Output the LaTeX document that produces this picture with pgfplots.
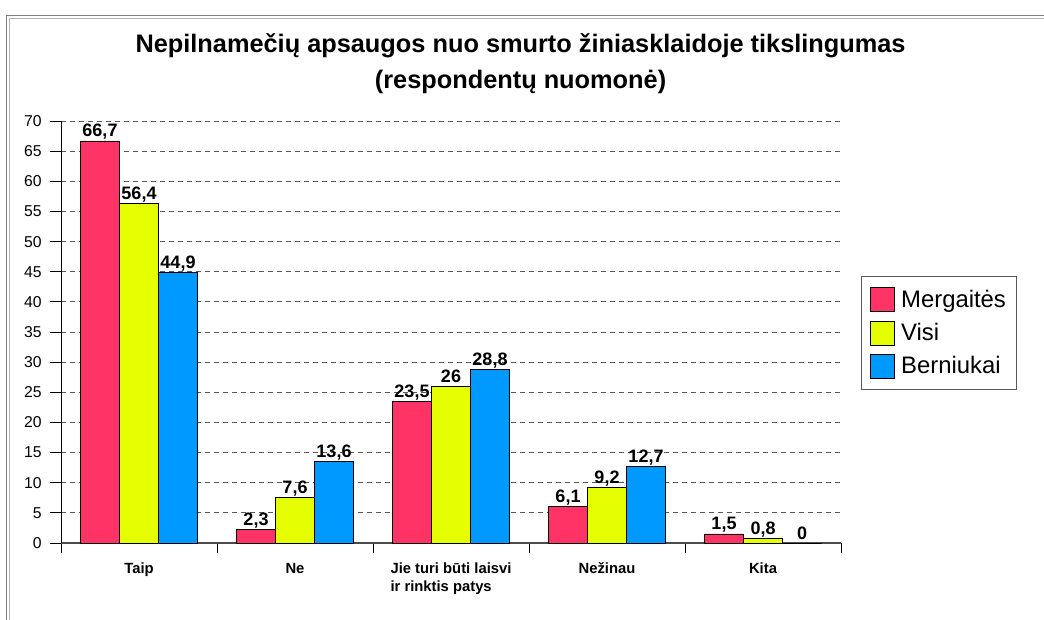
\documentclass[border=0pt]{standalone}
\usepackage{fontspec}
\setmainfont{Liberation Sans}
\usepackage{pgfplots}
\pgfplotsset{compat=1.18}
\definecolor{cpink}{HTML}{FF3366}
\definecolor{cyel}{HTML}{E5FF00}
\definecolor{cblue}{HTML}{0099FF}
\begin{document}
\begin{tikzpicture}
\clip (0,0) rectangle (783pt,-464.25pt);
\useasboundingbox (0,0) rectangle (783pt,-464.25pt);
\fill[white] (0,0) rectangle (783pt,-464.25pt);
\draw[gray, line width=0.75pt] (4.5pt,-470pt) |- (790pt,-11.6pt);
\draw[gray!60, line width=0.75pt] (6.75pt,-470pt) |- (790pt,-13.9pt);
\node[anchor=base, font=\bfseries\fontsize{19}{22}\selectfont] at (390.4pt,-39pt) {Nepilnamečių apsaugos nuo smurto žiniasklaidoje tikslingumas};
\node[anchor=base, font=\bfseries\fontsize{19}{22}\selectfont] at (390.4pt,-66pt) {(respondentų nuomonė)};
\begin{axis}[
  at={(45.75pt,-407.25pt)}, anchor=south west,
  scale only axis, width=585pt, height=316.5pt,
  xmin=-0.5, xmax=4.5, ymin=0, ymax=70,
  axis lines=left, axis line style={-},
  x axis line style={gray!60!black, line width=1.2pt},
  y axis line style={black, line width=0.6pt},
  ybar=0pt, bar width=29.25pt,
  xtick={0,1,2,3,4},
  xticklabels={\vphantom{Ž}Taip, \vphantom{Ž}Ne, {\vphantom{Ž}Jie turi būti laisvi\\ir rinktis patys}, \vphantom{Ž}Nežinau, \vphantom{Ž}Kita},
  major x tick style={draw=none},
  minor xtick={-0.5,0.5,1.5,2.5,3.5,4.5},
  minor x tick style={black, line width=0.6pt},
  minor tick length=7.5pt,
  major tick length=8pt,
  tick align=outside,
  ytick={0,5,...,70},
  y tick style={black, line width=0.6pt},
  ymajorgrids,
  grid style={gray!70!black, line width=0.75pt, dash pattern=on 3.75pt off 3pt},
  /pgf/number format/assume math mode=true,
  /pgf/number format/use comma,
  y tick label style={font=\fontsize{11.8}{13}\selectfont, xshift=-3pt},
  x tick label style={font=\bfseries\fontsize{11.1}{13.5}\selectfont, align=left, anchor=north, yshift=-1.5pt},
  nodes near coords,
  every node near coord/.append style={font=\bfseries\fontsize{13.5}{14}\selectfont, anchor=base, yshift=3pt, text=black},
  legend style={at={(1.0256,0.6327)}, anchor=north west, draw=gray!70!black, line width=0.75pt,
    font=\fontsize{17.9}{20}\selectfont, row sep=6.5pt, inner xsep=6.25pt, inner ysep=8pt,
    nodes={inner sep=2pt}},
  legend cell align=left,
  legend image code/.code={\draw[#1,draw=black,line width=0.5pt] (0pt,-9pt) rectangle (18pt,9pt); \path (21pt,0pt);},
]
\addplot[fill=cpink, draw=black, line width=0.5pt] coordinates {(0,66.7) (1,2.3) (2,23.5) (3,6.1) (4,1.5)};
\addplot[fill=cyel, draw=black, line width=0.5pt] coordinates {(0,56.4) (1,7.6) (2,26) (3,9.2) (4,0.8)};
\addplot[fill=cblue, draw=black, line width=0.5pt] coordinates {(0,44.9) (1,13.6) (2,28.8) (3,12.7) (4,0)};
\legend{Mergaitės, Visi, Berniukai}
\end{axis}
\end{tikzpicture}
\end{document}
